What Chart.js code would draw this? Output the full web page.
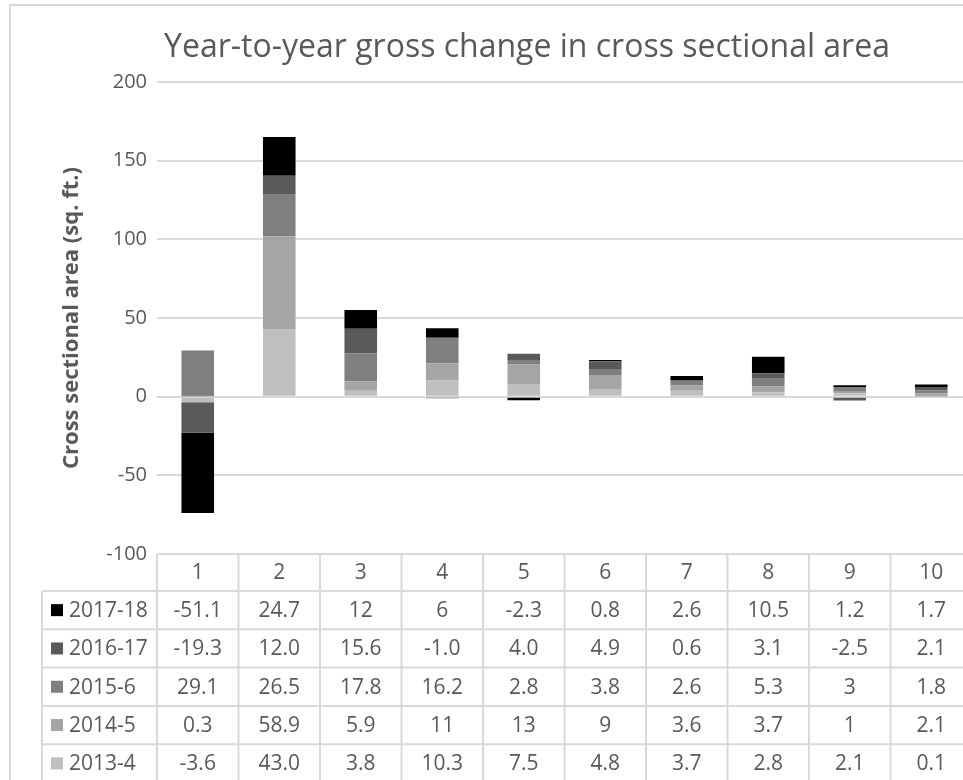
<!DOCTYPE html>
<html>
<head>
<meta charset="utf-8">
<title>Year-to-year gross change in cross sectional area</title>
<script src="https://cdn.jsdelivr.net/npm/chart.js@4/dist/chart.umd.min.js"></script>
<style>
    html, body { margin: 0; padding: 0; background: #fff; overflow: hidden; }
    body { width: 963px; height: 780px; position: relative; }
    #frame {
        position: absolute; left: 9px; top: 4px; width: 1100px; height: 900px;
        border-left: 2px solid #d9d9d9; border-top: 2px solid #d9d9d9;
    }
    #wrap { position: absolute; left: 12px; top: 7px; width: 1058px; height: 773px; }
</style>
</head>
<body>
<div id="frame"></div>
<div id="wrap"><canvas id="chart"></canvas></div>
<script>
// categories (cross sections) and yearly series, bottom of stack first
const categories = ["1", "2", "3", "4", "5", "6", "7", "8", "9", "10"];
const seriesNames = ["2013-4", "2014-5", "2015-6", "2016-17", "2017-18"];
const values2013 = [-3.6, 43.0, 3.8, 10.3, 7.5, 4.8, 3.7, 2.8, 2.1, 0.1];
const values2014 = [0.3, 58.9, 5.9, 11, 13, 9, 3.6, 3.7, 1, 2.1];
const values2015 = [29.1, 26.5, 17.8, 16.2, 2.8, 3.8, 2.6, 5.3, 3, 1.8];
const values2016 = [-19.3, 12.0, 15.6, -1.0, 4.0, 4.9, 0.6, 3.1, -2.5, 2.1];
const values2017 = [-51.1, 24.7, 12, 6, -2.3, 0.8, 2.6, 10.5, 1.2, 1.7];
const seriesValues = [values2013, values2014, values2015, values2016, values2017];
// how the table prints each row (null = as is)
const seriesDecimals = [1, null, null, 1, null];
const seriesColors = ["#bfbfbf", "#a5a5a5", "#7f7f7f", "#595959", "#000000"];
const yMin = -100, yMax = 200, yStep = 50;

const textColor = "#595959";
const lineColor = "#d9d9d9";
const fontFamily = "'Open Sans', 'Noto Sans', sans-serif";

// Data table under the plot, columns follow the x scale
const dataTable = {
    id: "dataTable",
    afterDraw(chart) {
        const ctx = chart.ctx;
        const area = chart.chartArea;
        const xScale = chart.scales.x;
        const colW = (area.right - area.left) / categories.length;
        const headH = 37, rowH = 38.3;
        const legLeft = area.left - 115;
        const top = area.bottom;
        const bottom = top + headH + rowH * seriesNames.length + 5;

        ctx.save();
        ctx.strokeStyle = lineColor;
        ctx.lineWidth = 2;

        // horizontal lines
        ctx.beginPath();
        ctx.moveTo(area.left, top);
        ctx.lineTo(area.right + 2, top);
        for (let r = 0; r <= seriesNames.length; r++) {
            const y = top + headH + rowH * r;
            ctx.moveTo(legLeft, y);
            ctx.lineTo(area.right + 2, y);
        }
        // vertical lines
        for (let i = 0; i <= categories.length; i++) {
            const x = area.left + colW * i;
            ctx.moveTo(x, top);
            ctx.lineTo(x, bottom);
        }
        ctx.moveTo(legLeft, top + headH);
        ctx.lineTo(legLeft, bottom);
        ctx.stroke();

        ctx.fillStyle = textColor;
        ctx.font = "21px " + fontFamily;
        ctx.textBaseline = "middle";
        ctx.textAlign = "center";

        // header row
        categories.forEach((c, i) => {
            ctx.fillText(c, xScale.getPixelForValue(i), top + headH / 2 + 1);
        });

        // series rows, top of stack first
        const order = seriesNames.map((_, i) => i).reverse();
        order.forEach((s, r) => {
            const yMid = top + headH + rowH * r + rowH / 2 + 1;
            ctx.fillStyle = seriesColors[s];
            ctx.fillRect(legLeft + 9, yMid - 7, 12, 12);
            ctx.fillStyle = textColor;
            ctx.textAlign = "left";
            ctx.fillText(seriesNames[s], legLeft + 27, yMid);
            ctx.textAlign = "center";
            seriesValues[s].forEach((v, i) => {
                const label = seriesDecimals[s] ? v.toFixed(seriesDecimals[s]) : String(v);
                ctx.fillText(label, xScale.getPixelForValue(i), yMid);
            });
        });
        ctx.restore();
    }
};

const ctx = document.getElementById("chart").getContext("2d");
new Chart(ctx, {
    type: "bar",
    data: {
        labels: categories,
        datasets: seriesNames.map((name, i) => ({
            label: name,
            data: seriesValues[i],
            backgroundColor: seriesColors[i],
            borderWidth: 0,
            categoryPercentage: 1,
            barPercentage: 0.4
        }))
    },
    options: {
        responsive: true,
        maintainAspectRatio: false,
        animation: false,
        layout: {
            padding: { left: 70, right: 98, top: 0, bottom: 226 }
        },
        plugins: {
            legend: { display: false },
            tooltip: { enabled: false },
            title: {
                display: true,
                text: "Year-to-year gross change in cross sectional area",
                color: textColor,
                font: { family: fontFamily, size: 32, weight: "normal" },
                padding: { top: 22, bottom: 14.6 }
            }
        },
        scales: {
            x: {
                stacked: true,
                display: false
            },
            y: {
                stacked: true,
                min: yMin,
                max: yMax,
                afterFit(scale) { scale.width = 75; },
                ticks: {
                    stepSize: yStep,
                    color: textColor,
                    padding: 10,
                    font: { family: fontFamily, size: 20 }
                },
                grid: {
                    color: lineColor,
                    lineWidth: 2,
                    drawTicks: false
                },
                border: { display: false },
                title: {
                    display: true,
                    text: "Cross sectional area (sq. ft.)",
                    color: textColor,
                    padding: { top: -23, bottom: 0 },
                    font: { family: fontFamily, size: 22, weight: "bold" }
                }
            }
        }
    },
    plugins: [dataTable]
});
</script>
</body>
</html>
